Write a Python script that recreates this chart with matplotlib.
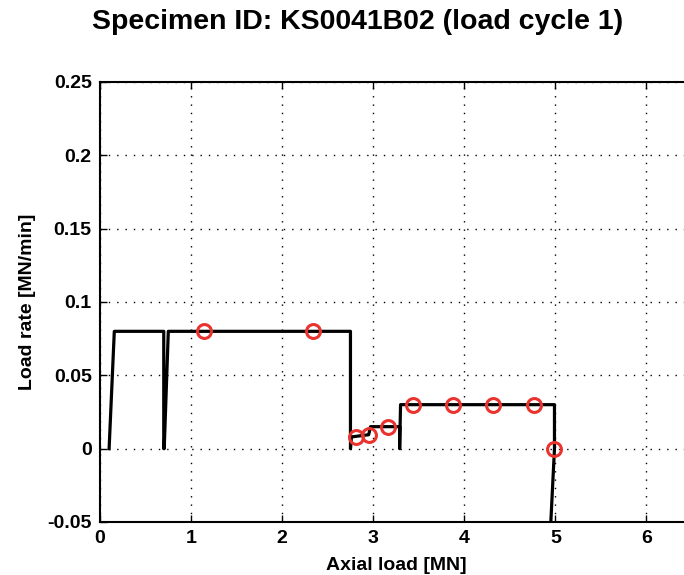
import matplotlib
matplotlib.use("Agg")
import matplotlib.pyplot as plt

# Black load-rate trace (axial load [MN], load rate [MN/min])
trace_x = [0.10, 0.157, 0.70, 0.70, 0.705, 0.75, 2.75, 2.75, 2.76, 2.95, 2.97, 3.29, 3.29, 3.30, 4.99, 4.99, 4.95]
trace_y = [0.0, 0.080, 0.080, 0.0, 0.0, 0.080, 0.080, 0.0, 0.008, 0.0095, 0.015, 0.015, 0.0, 0.030, 0.030, 0.0, -0.05]

# Red marker points
mark_x = [1.145, 2.34, 2.81, 2.95, 3.16, 3.44, 3.88, 4.32, 4.77, 4.99]
mark_y = [0.080, 0.080, 0.0077, 0.0095, 0.0148, 0.030, 0.030, 0.030, 0.030, 0.0]

xticks = [0, 1, 2, 3, 4, 5, 6]
yticks = [-0.05, 0, 0.05, 0.1, 0.15, 0.2, 0.25]
ytick_labels = ["-0.05", "0", "0.05", "0.1", "0.15", "0.2", "0.25"]

plt.rcParams['font.family'] = ['Liberation Sans', 'DejaVu Sans']

fig = plt.figure(figsize=(6.84, 5.75), dpi=100)
ax = fig.add_axes([100/684, 53/575, 592/684, 440/575])

ax.plot(trace_x, trace_y, color='black', lw=2.3, zorder=3)
ax.plot(mark_x, mark_y, 'o', ms=10, mfc='none', mec='#e8332e', mew=2.2, zorder=4)

ax.set_xlim(0, 6.5)
ax.set_ylim(-0.05, 0.25)
ax.set_xticks(xticks)
ax.set_xticklabels([str(t) for t in xticks], fontsize=14, fontweight='bold')
ax.set_yticks(yticks)
ax.set_yticklabels(ytick_labels, fontsize=14, fontweight='bold')
ax.tick_params(direction='in', length=5, width=1, pad=6, top=True, right=True)
ax.grid(True, linestyle=(0, (1, 5)), color='black', lw=1)
for s in ax.spines.values():
    s.set_linewidth(1.5)

ax.set_xlabel("Axial load [MN]", fontsize=14, fontweight='bold', labelpad=7)
ax.set_ylabel("Load rate [MN/min]", fontsize=14, fontweight='bold', labelpad=8)
fig.suptitle("Specimen ID: KS0041B02 (load cycle 1)", fontsize=20.5, fontweight='bold', x=0.523, y=0.985)

fig.savefig("out.png", dpi=100)
